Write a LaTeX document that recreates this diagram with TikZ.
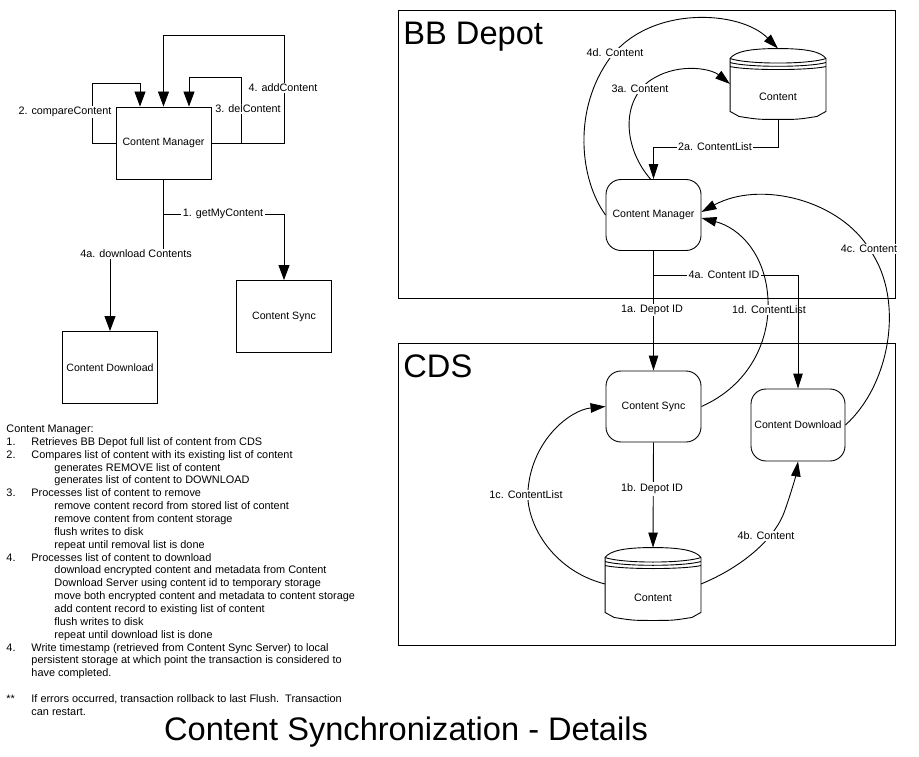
\documentclass[tikz,border=0pt]{standalone}
\usepackage{fontspec}
\setmainfont{Liberation Sans}
\usetikzlibrary{arrows.meta}
\newcommand\dbdraw[1]{%
\draw ([shift={(0,10)}]#1.north west) .. controls ([shift={(5,3)}]#1.north west) and ([shift={(-28,0)}]#1.north) .. (#1.north) .. controls ([shift={(28,0)}]#1.north) and ([shift={(-5,3)}]#1.north east) .. ([shift={(0,10)}]#1.north east) -- ([shift={(0,-8)}]#1.south east) -- ([shift={(-9,-3)}]#1.south east) .. controls ([shift={(20,0)}]#1.south) .. (#1.south) .. controls ([shift={(-20,0)}]#1.south) .. ([shift={(9,-3)}]#1.south west) -- ([shift={(0,-8)}]#1.south west) -- cycle;
\foreach \i in {0,1,2} {\draw ([shift={(0,10+4*\i)}]#1.north west) .. controls ([shift={(-30,16+3*\i)}]#1.north) and ([shift={(30,16+3*\i)}]#1.north) .. ([shift={(0,10+4*\i)}]#1.north east);}
}
\begin{document}
\begin{tikzpicture}[x=1pt,y=-1pt,line width=0.9pt,
 lbl/.style={font=\fontsize{10.8}{12}\selectfont,inner sep=1.5pt},
 wlbl/.style={lbl,fill=white},
 sqbox/.style={draw,font=\fontsize{10.6}{12}\selectfont,inner sep=0pt,minimum width=95pt,minimum height=72pt},
 rbox/.style={draw,rounded corners=15pt,font=\fontsize{10.6}{12}\selectfont,inner sep=0pt,minimum width=95pt,minimum height=71pt},
 dbbox/.style={inner sep=0pt,minimum width=95pt,minimum height=70pt},
 frame/.style={draw,inner sep=0pt},
 big/.style={font=\fontsize{32.6}{38}\selectfont,inner sep=0pt},
 arr/.style={-{Triangle[length=15pt,width=11pt]}},
 arrs/.style={-{Triangle[length=15pt,width=9.5pt]}}]
\useasboundingbox (0,0) rectangle (919,757);
% ---------- left diagram
\node[sqbox] (lcm) at (163.5,143) {Content Manager};
\node[sqbox] (lcs) at (284,316.5) {Content Sync};
\node[sqbox] (lcd) at (110,367.5) {Content Download};
\draw[arr] (lcm.west) -| (92,83) -| ([xshift=-23.5pt]lcm.north);
\draw[arr] (lcm.east) -- (241,143) |- (189,77) -- ([xshift=25.5pt]lcm.north);
\draw[arr] (lcm.east) -- (284,143) |- (163.5,35) -- (lcm.north);
\draw[arr] (lcm.south) |- (284,214) -- (lcs.north);
\draw[arr] (lcm.south) |- (110,254) -- (lcd.north);
\node[wlbl] (l2) at (65,112) {2. compareContent};
\node[wlbl] (l3) at (248,109) {3. delContent};
\node[wlbl] (l4) at (283,88) {4. addContent};
\node[wlbl] (l1) at (223,214) {1. getMyContent};
\node[wlbl] (l4a) at (136,254) {4a. download Contents};
% ---------- notes
\node[anchor=north west,inner sep=0pt,align=left,font=\fontsize{10.9}{12.86}\selectfont] (notes) at (6,423) {%
\begin{tabular}{@{}p{25pt}@{}l@{}}
\multicolumn{2}{@{}l@{}}{Content Manager:}\\
1. & Retrieves BB Depot full list of content from CDS\\
2. & Compares list of content with its existing list of content\\
 & \hspace{23pt}generates REMOVE list of content\\
 & \hspace{23pt}generates list of content to DOWNLOAD\\
3. & Processes list of content to remove\\
 & \hspace{23pt}remove content record from stored list of content\\
 & \hspace{23pt}remove content from content storage\\
 & \hspace{23pt}flush writes to disk\\
 & \hspace{23pt}repeat until removal list is done\\
4. & Processes list of content to download\\
 & \hspace{23pt}download encrypted content and metadata from Content\\
 & \hspace{23pt}Download Server using content id to temporary storage\\
 & \hspace{23pt}move both encrypted content and metadata to content storage\\
 & \hspace{23pt}add content record to existing list of content\\
 & \hspace{23pt}flush writes to disk\\
 & \hspace{23pt}repeat until download list is done\\
4. & Write timestamp (retrieved from Content Sync Server) to local\\
 & persistent storage at which point the transaction is considered to\\
 & have completed.\\
 & \\
\relax{**} & If errors occurred, transaction rollback to last Flush.\ \ Transaction\\
 & can restart.
\end{tabular}};
\node[big,anchor=base] (title) at (406,740) {Content Synchronization - Details};
% ---------- right diagram
\node[frame,minimum width=497pt,minimum height=288pt] (bbframe) at (646.5,154) {};
\node[frame,minimum width=497pt,minimum height=302pt] (cdsframe) at (646.5,494) {};
\node[big,anchor=base west] (bbt) at (403,45) {BB Depot};
\node[big,anchor=base west] (cdst) at (403,377) {CDS};
\node[rbox] (rcm) at (653.5,215) {Content Manager};
\node[rbox] (rcs) at (653.5,406.5) {Content Sync};
\node[rbox,minimum width=94pt,minimum height=72pt] (rcd) at (798,425) {Content Download};
\node[dbbox] (db1) at (778,84) {};
\node[dbbox,minimum height=72pt] (db2) at (653,584) {};
\dbdraw{db1}
\dbdraw{db2}
\node[lbl] (db1t) at (778,97) {Content};
\node[lbl] (db2t) at (653,598) {Content};
% connectors
\draw[arrs] (db1.south) |- (653.5,147) -- (rcm.north);
\node[wlbl] (r2a) at (715,147) {2a. ContentList};
\draw[arrs] ([xshift=-3pt]rcm.north) .. controls (625,150) and (620,105) .. (648,82) .. controls (675,62) and (710,68) .. (db1.west);
\node[wlbl] (r3a) at (640,89) {3a. Content};
\draw[arrs] (rcm.west) .. controls (580,180) and (572,110) .. (610,58) .. controls (650,5) and (740,10) .. (db1.north);
\node[wlbl] (r4d) at (615,53) {4d. Content};
\draw[arrs] (rcd.east) .. controls (890,385) and (905,300) .. (870,250) .. controls (840,200) and (760,180) .. ([shift={(0,-3)}]rcm.east);
\node[wlbl] (r4c) at (869,249) {4c. Content};
\draw[arrs] (rcs.east) .. controls (750,385) and (770,340) .. (768,300) .. controls (766,255) and (740,228) .. ([shift={(0,3)}]rcm.east);
\node[wlbl] (r1d) at (769,310) {1d. ContentList};
\draw[arrs] (rcm.south) -- (rcs.north);
\node[wlbl] (r1a) at (652,310) {1a. Depot ID};
\draw[arrs] (rcm.south) |- (798,275) -- (rcd.north);
\node[wlbl] (r4a) at (724,275) {4a. Content ID};
\draw[arrs] (rcs.south) -- (db2.north);
\node[wlbl] (r1b) at (652,489) {1b. Depot ID};
\draw[arrs] (db2.west) .. controls (550,570) and (525,520) .. (528,490) .. controls (532,440) and (570,410) .. (rcs.west);
\node[wlbl] (r1c) at (526,495) {1c. ContentList};
\draw[arrs] (db2.east) .. controls (740,568) and (775,540) .. (785,510) .. controls (792,490) and (796,475) .. (rcd.south);
\node[wlbl] (r4b) at (766,536) {4b. Content};
\end{tikzpicture}
\end{document}
